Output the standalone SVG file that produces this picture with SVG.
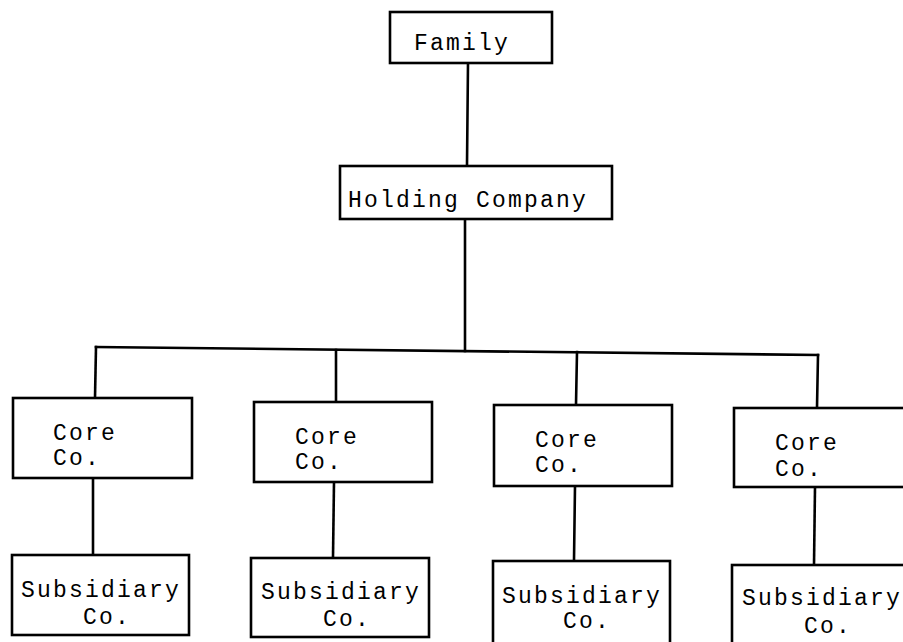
<svg xmlns="http://www.w3.org/2000/svg" width="903" height="642" viewBox="0 0 903 642">
  <style>
    .box { fill: #ffffff; stroke: #000000; stroke-width: 2.6; }
    .link { stroke: #000000; stroke-width: 2.6; fill: none; stroke-linecap: square; }
    .label { font-family: "Liberation Mono", "DejaVu Sans Mono", monospace; font-size: 23px; letter-spacing: 2.2px; fill: #000000; }
  </style>
  <rect x="0" y="0" width="903" height="642" fill="#ffffff"/>

  <!-- connectors -->
  <g id="connectors">
    <line class="link" x1="468" y1="63" x2="467" y2="165"/>
    <line class="link" x1="465" y1="219" x2="465" y2="351"/>
    <line class="link" x1="96" y1="347" x2="818" y2="355"/>
    <line class="link" x1="96" y1="347" x2="95" y2="398"/>
    <line class="link" x1="336" y1="350" x2="336" y2="402"/>
    <line class="link" x1="577" y1="352" x2="576" y2="405"/>
    <line class="link" x1="818" y1="355" x2="817" y2="408"/>
    <line class="link" x1="93" y1="478" x2="93" y2="555"/>
    <line class="link" x1="334" y1="482" x2="333" y2="558"/>
    <line class="link" x1="575" y1="486" x2="574" y2="561"/>
    <line class="link" x1="815" y1="487" x2="814" y2="565"/>
  </g>

  <!-- top of the hierarchy -->
  <g id="family">
    <rect class="box" x="390" y="12" width="162" height="51"/>
    <text class="label" x="414" y="50">Family</text>
  </g>
  <g id="holding">
    <rect class="box" x="340" y="166" width="272" height="53"/>
    <text class="label" x="348" y="207">Holding Company</text>
  </g>

  <!-- core companies -->
  <g id="core1">
    <rect class="box" x="13" y="398" width="179" height="80"/>
    <text class="label" x="53" y="440">Core</text>
    <text class="label" x="53" y="465">Co.</text>
  </g>
  <g id="core2">
    <rect class="box" x="254" y="402" width="178" height="80"/>
    <text class="label" x="295" y="444">Core</text>
    <text class="label" x="295" y="469">Co.</text>
  </g>
  <g id="core3">
    <rect class="box" x="494" y="405" width="178" height="81"/>
    <text class="label" x="535" y="447">Core</text>
    <text class="label" x="535" y="472">Co.</text>
  </g>
  <g id="core4">
    <rect class="box" x="734" y="408" width="190" height="79"/>
    <text class="label" x="775" y="450">Core</text>
    <text class="label" x="775" y="476">Co.</text>
  </g>

  <!-- subsidiaries -->
  <g id="sub1">
    <rect class="box" x="12" y="555" width="177" height="80"/>
    <text class="label" x="21" y="597">Subsidiary</text>
    <text class="label" x="83" y="624">Co.</text>
  </g>
  <g id="sub2">
    <rect class="box" x="251" y="558" width="178" height="79"/>
    <text class="label" x="261" y="599">Subsidiary</text>
    <text class="label" x="323" y="626">Co.</text>
  </g>
  <g id="sub3">
    <rect class="box" x="493" y="561" width="177" height="90"/>
    <text class="label" x="502" y="603">Subsidiary</text>
    <text class="label" x="563" y="628">Co.</text>
  </g>
  <g id="sub4">
    <rect class="box" x="732" y="565" width="190" height="90"/>
    <text class="label" x="742" y="605">Subsidiary</text>
    <text class="label" x="804" y="633">Co.</text>
  </g>
</svg>
